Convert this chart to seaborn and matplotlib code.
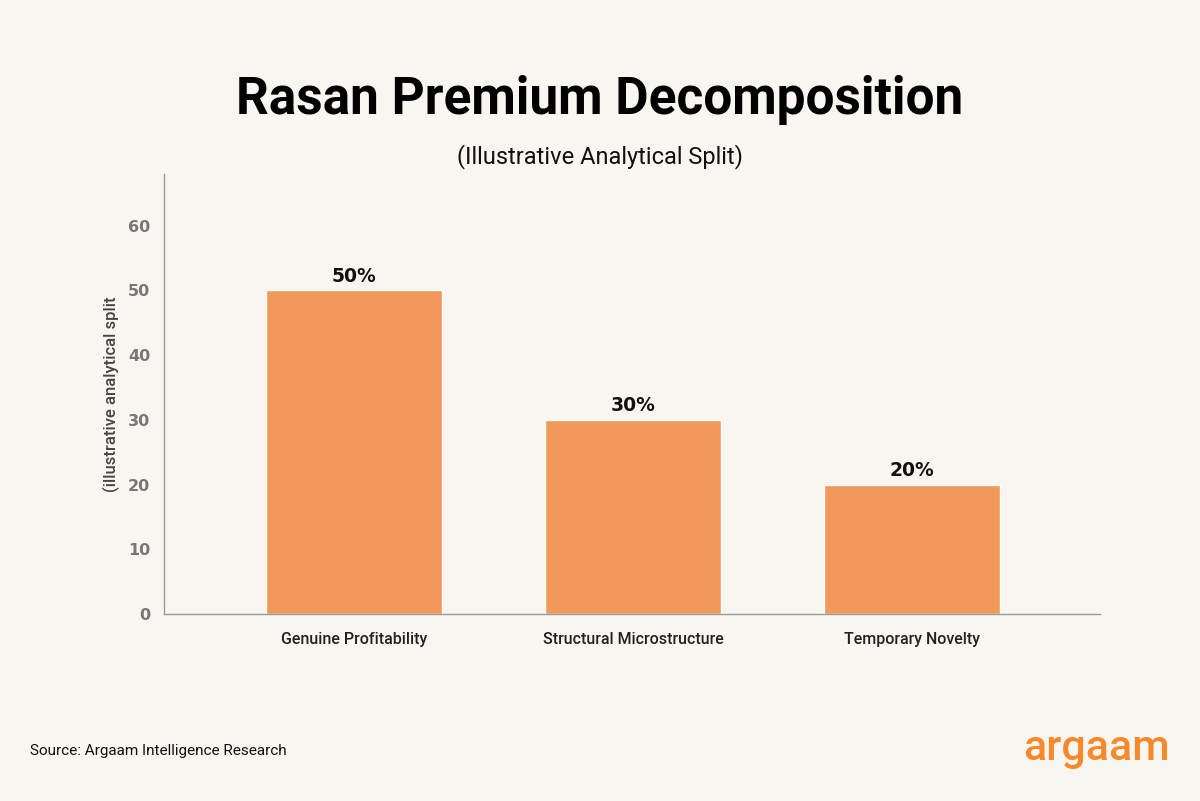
import matplotlib
matplotlib.use("Agg")
import matplotlib.pyplot as plt
import seaborn as sns
import pandas as pd

# ==============================================================================
# DATOS
# ==============================================================================
categorias = ["Genuine Profitability", "Structural Microstructure", "Temporary Novelty"]
valores = [50, 30, 20]
etiquetas = ["50%", "30%", "20%"]

BG = "#f9f6f1"
BAR = "#f0995a"
FUENTE = ["Roboto", "DejaVu Sans"]

sns.set_theme(style="white")
plt.rcParams["font.family"] = FUENTE

df = pd.DataFrame({"cat": categorias, "val": valores})

fig = plt.figure(figsize=(12, 8.01), dpi=100, facecolor=BG)
ax = fig.add_axes([0.1367, 0.2335, 0.78, 0.5493], facecolor=BG)

sns.barplot(data=df, x="cat", y="val", color=BAR, width=0.63,
            saturation=1, ax=ax)

# etiquetas sobre las barras
for p, txt in zip(ax.patches, etiquetas):
    ax.text(p.get_x() + p.get_width() / 2, p.get_height() + 0.7, txt,
            ha="center", va="bottom", fontsize=13.5, fontweight="bold",
            color="#111111", family=["DejaVu Sans"])

ax.set_ylim(0, 68)
ax.set_xlim(-0.68, 2.674)
ax.set_yticks(range(0, 70, 10))
ax.tick_params(axis="y", length=0, pad=10, labelsize=11.5, labelcolor="#777777")
ax.tick_params(axis="x", length=0, pad=13, labelsize=11.5, labelcolor="#222222")
for lbl in ax.get_yticklabels():
    lbl.set_fontweight("bold")
    lbl.set_family(["DejaVu Sans"])
for lbl in ax.get_xticklabels():
    lbl.set_fontweight("medium")

ax.set_xlabel("")
ax.set_ylabel("(illustrative analytical split", fontsize=12, color="#444444",
              labelpad=6, fontweight="medium")

sns.despine(ax=ax)
for s in ["left", "bottom"]:
    ax.spines[s].set_color("#9a9a9a")
    ax.spines[s].set_linewidth(1.0)

# títulos
fig.text(0.5, 0.875, "Rasan Premium Decomposition", ha="center", va="center",
         fontsize=37, fontweight="bold", color="#000000")
fig.text(0.5, 0.804, "(Illustrative Analytical Split)", ha="center", va="center",
         fontsize=17, color="#111111")

# pie
fig.text(0.025, 0.063, "Source: Argaam Intelligence Research", ha="left",
         va="center", fontsize=11, color="#111111")
fig.text(0.975, 0.066, "argaam", ha="right", va="center", fontsize=31,
         fontweight="medium", color="#f7892a")

fig.savefig("out.png", dpi=100, facecolor=BG)
